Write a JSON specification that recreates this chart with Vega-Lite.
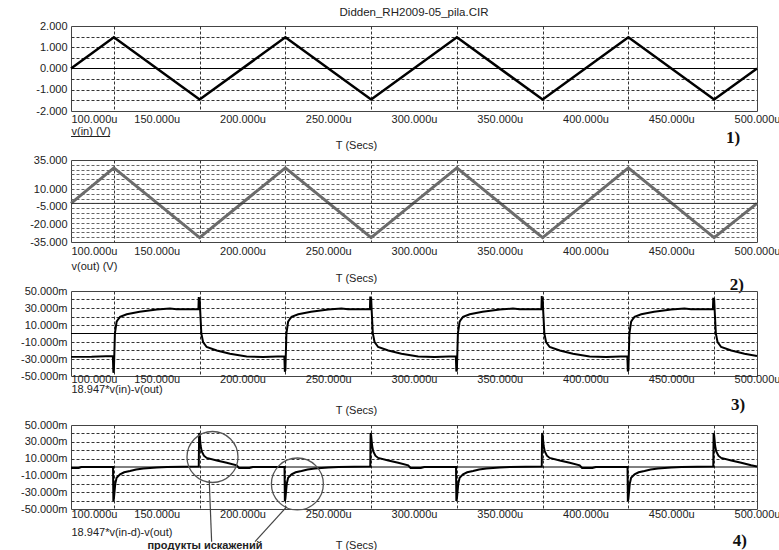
{
  "$schema": "https://vega.github.io/schema/vega-lite/v6.json",
  "autosize": {"type": "none"},
  "padding": {"left": 71, "top": 26, "right": 708, "bottom": 524},
  "background": "white",
  "bounds": "flush",
  "spacing": 49,
  "config": {
    "view": {"stroke": "#444", "strokeWidth": 1},
    "font": "Liberation Sans",
    "axis": {
      "labelFont": "Liberation Sans", "labelFontSize": 11, "labelColor": "#222",
      "titleFont": "Liberation Sans", "titleFontSize": 11, "titleFontWeight": "normal", "titleColor": "#222",
      "ticks": false, "domain": false, "gridColor": "#333", "gridDash": [3, 2], "gridWidth": 1,
      "labelOverlap": false, "labelFlush": false, "labelBound": false
    }
  },
  "datasets": {
    "vin": [
      {"t": 100, "v": 0}, {"t": 125, "v": 1.47}, {"t": 175, "v": -1.46}, {"t": 225, "v": 1.47}, {"t": 275, "v": -1.46},
      {"t": 325, "v": 1.47}, {"t": 375, "v": -1.46}, {"t": 425, "v": 1.47}, {"t": 475, "v": -1.46}, {"t": 500, "v": 0}
    ],
    "vout": [
      {"t": 100, "v": -2}, {"t": 125, "v": 28.3}, {"t": 175, "v": -31.3}, {"t": 225, "v": 28.3}, {"t": 275, "v": -31.3},
      {"t": 325, "v": 28.3}, {"t": 375, "v": -31.3}, {"t": 425, "v": 28.3}, {"t": 475, "v": -31.3}, {"t": 500, "v": -2}
    ],
    "d3": [
      {"t": 100, "v": -27.5}, {"t": 112, "v": -27.3}, {"t": 124.4, "v": -26.5},
      {"t": 124.7, "v": -46}, {"t": 125.0, "v": -44}, {"t": 125.6, "v": 0}, {"t": 126.6, "v": 14}, {"t": 127.6, "v": 17}, {"t": 128.6, "v": 19.6}, {"t": 132.5, "v": 22.7}, {"t": 140, "v": 25.5}, {"t": 150, "v": 28.2}, {"t": 157.7, "v": 29.4}, {"t": 161.6, "v": 28.6}, {"t": 174.3, "v": 28.6}, {"t": 174.5, "v": 43}, {"t": 174.8, "v": 30}, {"t": 175.0, "v": 42}, {"t": 175.3, "v": 28}, {"t": 176.0, "v": 0}, {"t": 177.0, "v": -10}, {"t": 179.1, "v": -15.9}, {"t": 185, "v": -20}, {"t": 192.7, "v": -23.9}, {"t": 202.4, "v": -27.1}, {"t": 212, "v": -27.5}, {"t": 224.4, "v": -26.8},
      {"t": 224.7, "v": -45}, {"t": 225.0, "v": -43}, {"t": 225.6, "v": 0}, {"t": 226.6, "v": 14}, {"t": 227.6, "v": 17}, {"t": 228.6, "v": 19.6}, {"t": 232.5, "v": 22.7}, {"t": 240, "v": 25.5}, {"t": 250, "v": 28.2}, {"t": 257.7, "v": 29.4}, {"t": 261.6, "v": 28.6}, {"t": 274.3, "v": 28.6}, {"t": 274.5, "v": 43.4}, {"t": 274.8, "v": 30}, {"t": 275.0, "v": 42}, {"t": 275.3, "v": 28}, {"t": 276.0, "v": 0}, {"t": 277.0, "v": -10}, {"t": 279.1, "v": -15.9}, {"t": 285, "v": -20}, {"t": 292.7, "v": -23.9}, {"t": 302.4, "v": -27.1}, {"t": 312, "v": -27.5}, {"t": 324.4, "v": -26.8},
      {"t": 324.7, "v": -44.6}, {"t": 325.0, "v": -43}, {"t": 325.6, "v": 0}, {"t": 326.6, "v": 14}, {"t": 327.6, "v": 17}, {"t": 328.6, "v": 19.6}, {"t": 332.5, "v": 22.7}, {"t": 340, "v": 25.5}, {"t": 350, "v": 28.2}, {"t": 357.7, "v": 29.4}, {"t": 361.6, "v": 28.6}, {"t": 374.3, "v": 28.6}, {"t": 374.5, "v": 44}, {"t": 374.8, "v": 30}, {"t": 375.0, "v": 42}, {"t": 375.3, "v": 28}, {"t": 376.0, "v": 0}, {"t": 377.0, "v": -10}, {"t": 379.1, "v": -15.9}, {"t": 385, "v": -20}, {"t": 392.7, "v": -23.9}, {"t": 402.4, "v": -27.1}, {"t": 412, "v": -27.5}, {"t": 424.4, "v": -26.8},
      {"t": 424.7, "v": -44.6}, {"t": 425.0, "v": -43}, {"t": 425.6, "v": 0}, {"t": 426.6, "v": 14}, {"t": 427.6, "v": 17}, {"t": 428.6, "v": 19.6}, {"t": 432.5, "v": 22.7}, {"t": 440, "v": 25.5}, {"t": 450, "v": 28.2}, {"t": 457.7, "v": 29.4}, {"t": 461.6, "v": 28.6}, {"t": 474.3, "v": 28.6}, {"t": 474.5, "v": 42}, {"t": 474.8, "v": 30}, {"t": 475.0, "v": 41}, {"t": 475.3, "v": 28}, {"t": 476.0, "v": 0}, {"t": 477.0, "v": -10}, {"t": 479.1, "v": -15.9}, {"t": 485, "v": -20}, {"t": 492.7, "v": -23.9}, {"t": 500, "v": -26.5}
    ],
    "d4": [
      {"t": 100, "v": -1.2}, {"t": 104.5, "v": -1.2}, {"t": 106, "v": 0}, {"t": 124.5, "v": 0},
      {"t": 124.7, "v": -40.5}, {"t": 125.0, "v": -38}, {"t": 125.8, "v": -20}, {"t": 126.6, "v": -12.7}, {"t": 128.6, "v": -8.7}, {"t": 131, "v": -6.3}, {"t": 134.4, "v": -4.8}, {"t": 138, "v": -3}, {"t": 142.2, "v": -1.7}, {"t": 150, "v": -0.6}, {"t": 156, "v": 0}, {"t": 174.5, "v": 0.5}, {"t": 174.7, "v": 40.4}, {"t": 175.0, "v": 38}, {"t": 175.6, "v": 25}, {"t": 176.2, "v": 18.7}, {"t": 177.5, "v": 13.5}, {"t": 179.1, "v": 10.8}, {"t": 185, "v": 7.7}, {"t": 190.8, "v": 5}, {"t": 196.6, "v": 2}, {"t": 198, "v": -1.2}, {"t": 204, "v": -1.2}, {"t": 206, "v": 0}, {"t": 224.5, "v": 0},
      {"t": 224.7, "v": -40.5}, {"t": 225.0, "v": -38}, {"t": 225.8, "v": -20}, {"t": 226.6, "v": -12.7}, {"t": 228.6, "v": -8.7}, {"t": 231, "v": -6.3}, {"t": 234.4, "v": -4.8}, {"t": 238, "v": -3}, {"t": 242.2, "v": -1.7}, {"t": 250, "v": -0.6}, {"t": 256, "v": 0}, {"t": 274.5, "v": 0.5}, {"t": 274.7, "v": 40.4}, {"t": 275.0, "v": 38}, {"t": 275.6, "v": 25}, {"t": 276.2, "v": 18.7}, {"t": 277.5, "v": 13.5}, {"t": 279.1, "v": 10.8}, {"t": 285, "v": 7.7}, {"t": 290.8, "v": 5}, {"t": 296.6, "v": 2}, {"t": 298, "v": -1.2}, {"t": 304, "v": -1.2}, {"t": 306, "v": 0}, {"t": 324.5, "v": 0},
      {"t": 324.7, "v": -40.5}, {"t": 325.0, "v": -38}, {"t": 325.8, "v": -20}, {"t": 326.6, "v": -12.7}, {"t": 328.6, "v": -8.7}, {"t": 331, "v": -6.3}, {"t": 334.4, "v": -4.8}, {"t": 338, "v": -3}, {"t": 342.2, "v": -1.7}, {"t": 350, "v": -0.6}, {"t": 356, "v": 0}, {"t": 374.5, "v": 0.5}, {"t": 374.7, "v": 40.4}, {"t": 375.0, "v": 38}, {"t": 375.6, "v": 25}, {"t": 376.2, "v": 18.7}, {"t": 377.5, "v": 13.5}, {"t": 379.1, "v": 10.8}, {"t": 385, "v": 7.7}, {"t": 390.8, "v": 5}, {"t": 396.6, "v": 2}, {"t": 398, "v": -1.2}, {"t": 404, "v": -1.2}, {"t": 406, "v": 0}, {"t": 424.5, "v": 0},
      {"t": 424.7, "v": -40.5}, {"t": 425.0, "v": -38}, {"t": 425.8, "v": -20}, {"t": 426.6, "v": -12.7}, {"t": 428.6, "v": -8.7}, {"t": 431, "v": -6.3}, {"t": 434.4, "v": -4.8}, {"t": 438, "v": -3}, {"t": 442.2, "v": -1.7}, {"t": 450, "v": -0.6}, {"t": 456, "v": 0}, {"t": 474.5, "v": 0.5}, {"t": 474.7, "v": 40.4}, {"t": 475.0, "v": 38}, {"t": 475.6, "v": 25}, {"t": 476.2, "v": 18.7}, {"t": 477.5, "v": 13.5}, {"t": 479.1, "v": 10.8}, {"t": 485, "v": 7.7}, {"t": 490.8, "v": 5}, {"t": 496.6, "v": 2}, {"t": 500, "v": 0.5}
    ]
  },
  "vconcat": [
    {
      "width": 686, "height": 85,
      "title": {"text": "Didden_RH2009-05_pila.CIR", "fontSize": 11.5, "fontWeight": "normal", "font": "Liberation Sans", "color": "#222", "offset": 2, "anchor": "middle"},
      "layer": [
        {
          "data": {"name": "vin"},
          "mark": {"type": "line", "color": "#000", "strokeWidth": 2.5},
          "encoding": {
            "x": {"field": "t", "type": "quantitative", "scale": {"domain": [100, 500], "nice": false, "zero": false},
              "axis": {"values": [100,125,150,175,200,225,250,275,300,325,350,375,400,425,450,475,500], "tickCount": 100,
                "labelExpr": "datum.value % 50 == 0 ? format(datum.value, '.3f') + 'u' : ''",
                "labelAlign": {"condition": {"test": "datum.value == 100", "value": "left"}, "value": "center"},
                "grid": true, "gridOpacity": {"condition": {"test": "datum.value % 50 == 0", "value": 0}, "value": 1},
                "labelPadding": 2, "title": "T (Secs)", "titleX": 285, "titleY": 34, "titleAlign": "center", "titleBaseline": "middle"}},
            "y": {"field": "v", "type": "quantitative", "scale": {"domain": [-2, 2], "nice": false, "zero": false},
              "axis": {"values": [-2,-1.5,-1,-0.5,0,0.5,1,1.5,2], "tickCount": 100,
                "labelExpr": "datum.value == round(datum.value) ? replace(format(datum.value, '.3f'), '−', '-') : ''",
                "grid": true, "gridOpacity": {"condition": {"test": "datum.value == 0 || abs(datum.value) == 2", "value": 0}, "value": 1},
                "labelPadding": 4, "title": "v(in) (V)", "titleAngle": 0, "titleX": 0, "titleY": 105, "titleAlign": "left", "titleBaseline": "middle"}}
          }
        },
        {"data": {"values": [{}]}, "mark": {"type": "rule", "color": "#000", "strokeWidth": 1}, "encoding": {"y": {"datum": 0}}},
        {"data": {"values": [{}]}, "mark": {"type": "rule", "color": "#222", "strokeWidth": 1}, "encoding": {"x": {"datum": 100}, "x2": {"datum": 122.8}, "y": {"datum": -3.2}}},
        {"data": {"values": [{}]}, "mark": {"type": "text", "font": "Liberation Serif", "fontWeight": "bold", "fontSize": 17, "text": "1)", "align": "center", "baseline": "middle", "color": "#111"}, "encoding": {"x": {"datum": 486}, "y": {"datum": -3.27}}}
      ]
    },
    {
      "width": 686, "height": 82,
      "layer": [
        {
          "data": {"name": "vout"},
          "mark": {"type": "line", "color": "#6b6b6b", "strokeWidth": 3},
          "encoding": {
            "x": {"field": "t", "type": "quantitative", "scale": {"domain": [100, 500], "nice": false, "zero": false},
              "axis": {"values": [100,125,150,175,200,225,250,275,300,325,350,375,400,425,450,475,500], "tickCount": 100,
                "labelExpr": "datum.value % 50 == 0 ? format(datum.value, '.3f') + 'u' : ''",
                "labelAlign": {"condition": {"test": "datum.value == 100", "value": "left"}, "value": "center"},
                "grid": true, "gridOpacity": {"condition": {"test": "datum.value % 50 == 0", "value": 0}, "value": 1},
                "labelPadding": 3, "title": "T (Secs)", "titleX": 285, "titleY": 36, "titleAlign": "center", "titleBaseline": "middle"}},
            "y": {"field": "v", "type": "quantitative", "scale": {"domain": [-35, 35], "nice": false, "zero": false},
              "axis": {"values": [-35,-30.882,-26.765,-22.647,-20,-18.529,-14.412,-10.294,-6.176,-5,-2.059,2.059,6.176,10,10.294,14.412,18.529,22.647,26.765,30.882,35], "tickCount": 100,
                "labelExpr": "datum.value == round(datum.value) ? replace(format(datum.value, '.3f'), '−', '-') : ''",
                "grid": true, "gridColor": "#666", "gridOpacity": {"condition": {"test": "datum.value == round(datum.value)", "value": 0}, "value": 1},
                "labelPadding": 4, "title": "v(out) (V)", "titleAngle": 0, "titleX": 0, "titleY": 106, "titleAlign": "left", "titleBaseline": "middle"}}
          }
        },
        {"data": {"values": [{}]}, "mark": {"type": "rule", "color": "#333", "strokeWidth": 1}, "encoding": {"y": {"datum": -2.059}}},
        {"data": {"values": [{}]}, "mark": {"type": "text", "font": "Liberation Serif", "fontWeight": "bold", "fontSize": 17, "text": "2)", "align": "center", "baseline": "middle", "color": "#111"}, "encoding": {"x": {"datum": 488.3}, "y": {"datum": -71.7}}}
      ]
    },
    {
      "width": 686, "height": 85,
      "layer": [
        {
          "data": {"name": "d3"},
          "mark": {"type": "line", "color": "#000", "strokeWidth": 2},
          "encoding": {
            "x": {"field": "t", "type": "quantitative", "scale": {"domain": [100, 500], "nice": false, "zero": false},
              "axis": {"values": [100,125,150,175,200,225,250,275,300,325,350,375,400,425,450,475,500], "tickCount": 100,
                "labelExpr": "datum.value % 50 == 0 ? format(datum.value, '.3f') + 'u' : ''",
                "labelAlign": {"condition": {"test": "datum.value == 100", "value": "left"}, "value": "center"},
                "grid": true, "gridOpacity": {"condition": {"test": "datum.value % 50 == 0", "value": 0}, "value": 1},
                "labelPadding": -3, "title": "T (Secs)", "titleX": 285, "titleY": 34, "titleAlign": "center", "titleBaseline": "middle"}},
            "y": {"field": "v", "type": "quantitative", "scale": {"domain": [-50, 50], "nice": false, "zero": false},
              "axis": {"values": [-50,-40,-30,-20,-10,0,10,20,30,40,50], "tickCount": 100,
                "labelExpr": "(abs(datum.value) % 20 == 10 || abs(datum.value) == 50) ? replace(format(datum.value, '.3f'), '−', '-') + 'm' : ''",
                "grid": true, "gridOpacity": {"condition": {"test": "datum.value == 0 || abs(datum.value) == 50", "value": 0}, "value": 1},
                "labelPadding": 4, "title": "18.947*v(in)-v(out)", "titleAngle": 0, "titleX": 0, "titleY": 98.5, "titleAlign": "left", "titleBaseline": "middle"}}
          }
        },
        {"data": {"values": [{}]}, "mark": {"type": "rule", "color": "#000", "strokeWidth": 1}, "encoding": {"y": {"datum": 0}}},
        {"data": {"values": [{}]}, "mark": {"type": "text", "font": "Liberation Serif", "fontWeight": "bold", "fontSize": 17, "text": "3)", "align": "center", "baseline": "middle", "color": "#111"}, "encoding": {"x": {"datum": 489}, "y": {"datum": -84}}}
      ]
    },
    {
      "width": 686, "height": 84,
      "layer": [
        {
          "data": {"name": "d4"},
          "mark": {"type": "line", "color": "#000", "strokeWidth": 2},
          "encoding": {
            "x": {"field": "t", "type": "quantitative", "scale": {"domain": [100, 500], "nice": false, "zero": false},
              "axis": {"values": [100,125,150,175,200,225,250,275,300,325,350,375,400,425,450,475,500], "tickCount": 100,
                "labelExpr": "datum.value % 50 == 0 ? format(datum.value, '.3f') + 'u' : ''",
                "labelAlign": {"condition": {"test": "datum.value == 100", "value": "left"}, "value": "center"},
                "grid": true, "gridOpacity": {"condition": {"test": "datum.value % 50 == 0", "value": 0}, "value": 1},
                "labelPadding": -1, "title": "T (Secs)", "titleX": 285, "titleY": 36, "titleAlign": "center", "titleBaseline": "middle"}},
            "y": {"field": "v", "type": "quantitative", "scale": {"domain": [-50, 50], "nice": false, "zero": false},
              "axis": {"values": [-50,-40,-30,-20,-10,0,10,20,30,40,50], "tickCount": 100,
                "labelExpr": "(abs(datum.value) % 20 == 10 || abs(datum.value) == 50) ? replace(format(datum.value, '.3f'), '−', '-') + 'm' : ''",
                "grid": true, "gridOpacity": {"condition": {"test": "datum.value == 0 || abs(datum.value) == 50", "value": 0}, "value": 1},
                "labelPadding": 4, "title": "18.947*v(in-d)-v(out)", "titleAngle": 0, "titleX": 0, "titleY": 107, "titleAlign": "left", "titleBaseline": "middle"}}
          }
        },
        {"data": {"values": [{}]}, "mark": {"type": "rule", "color": "#000", "strokeWidth": 1}, "encoding": {"y": {"datum": 0}}},
        {"data": {"values": [{}]}, "mark": {"type": "point", "shape": "circle", "filled": false, "size": 2600, "stroke": "#555", "strokeWidth": 1.3, "opacity": 1}, "encoding": {"x": {"datum": 182.5}, "y": {"datum": 11.9}}},
        {"data": {"values": [{}]}, "mark": {"type": "point", "shape": "circle", "filled": false, "size": 2700, "stroke": "#555", "strokeWidth": 1.3, "opacity": 1}, "encoding": {"x": {"datum": 232}, "y": {"datum": -20.2}}},
        {"data": {"values": [{}]}, "mark": {"type": "rule", "color": "#444", "strokeWidth": 1.2}, "encoding": {"x": {"datum": 180.6}, "y": {"datum": -15.5}, "x2": {"datum": 182.0}, "y2": {"datum": -88.9}}},
        {"data": {"values": [{}]}, "mark": {"type": "rule", "color": "#444", "strokeWidth": 1.2}, "encoding": {"x": {"datum": 225.8}, "y": {"datum": -47.3}, "x2": {"datum": 207.3}, "y2": {"datum": -88.9}}},
        {"data": {"values": [{}]}, "mark": {"type": "text", "font": "Liberation Sans", "fontWeight": "bold", "fontSize": 11, "text": "продукты искажений", "align": "center", "baseline": "middle", "color": "#222"}, "encoding": {"x": {"datum": 178.1}, "y": {"datum": -94}}},
        {"data": {"values": [{}]}, "mark": {"type": "text", "font": "Liberation Serif", "fontWeight": "bold", "fontSize": 17, "text": "4)", "align": "center", "baseline": "middle", "color": "#111"}, "encoding": {"x": {"datum": 490}, "y": {"datum": -88}}}
      ]
    }
  ]
}
